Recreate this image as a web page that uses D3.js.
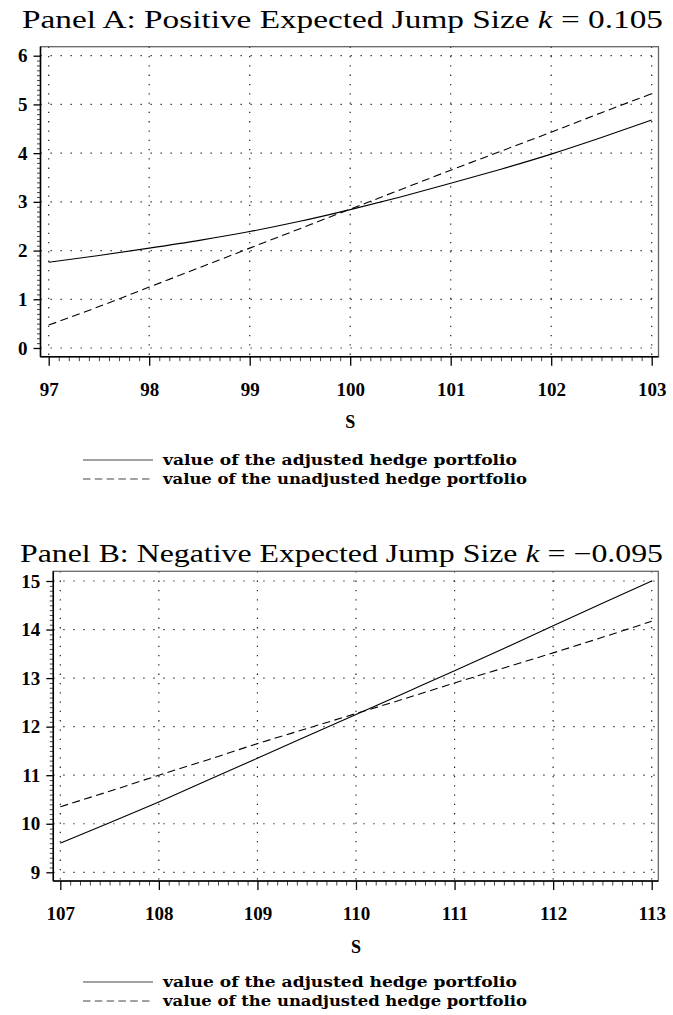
<!DOCTYPE html>
<html>
<head>
<meta charset="utf-8">
<script src="https://cdn.jsdelivr.net/npm/d3@7"></script>
<style>
  body { margin: 0; background: #fff; }
  text { fill: #000; }
</style>
</head>
<body>
<svg width="673" height="1015"></svg>
<script>
// Panel A: k = 0.105
var sA = [97, 97.5, 98, 98.5, 99, 99.5, 100, 100.5, 101, 101.5, 102, 102.5, 103];
var adjustedA = [1.76, 1.90, 2.05, 2.21, 2.39, 2.60, 2.84, 3.10, 3.38, 3.67, 3.98, 4.32, 4.68];
var unadjustedA = [0.47, 0.85, 1.25, 1.65, 2.05, 2.45, 2.85, 3.25, 3.65, 4.04, 4.43, 4.83, 5.22];
var xTicksA = [97, 98, 99, 100, 101, 102, 103];
var yTicksA = [0, 1, 2, 3, 4, 5, 6];

// Panel B: k = -0.095
var sB = [107, 107.5, 108, 108.5, 109, 109.5, 110, 110.5, 111, 111.5, 112, 112.5, 113];
var adjustedB = [9.60, 10.02, 10.45, 10.90, 11.35, 11.80, 12.25, 12.70, 13.15, 13.61, 14.08, 14.54, 15.00];
var unadjustedB = [10.35, 10.67, 11.00, 11.32, 11.65, 11.96, 12.27, 12.58, 12.90, 13.21, 13.52, 13.84, 14.17];
var xTicksB = [107, 108, 109, 110, 111, 112, 113];
var yTicksB = [9, 10, 11, 12, 13, 14, 15];

var legendLabels = ["value of the adjusted hedge portfolio",
    "value of the unadjusted hedge portfolio"];
var xLabel = "S";

var svg = d3.select("svg");
var tickFont = "'Liberation Serif', serif";
var legendFont = "'DejaVu Serif', serif";
var fmt = d3.format("d");

function drawPanel(p) {
    var g = svg.append("g");
    var x = d3.scaleLinear().domain(d3.extent(p.xTicks)).range(p.xRange);
    var y = d3.scaleLinear().domain(d3.extent(p.yTicks)).range(p.yRange);
    var f = p.frame;

    // title
    var title = g.append("text")
        .attr("x", p.titleX).attr("y", p.titleY)
        .attr("text-anchor", "middle")
        .attr("font-family", tickFont)
        .attr("font-size", 25)
        .attr("textLength", p.titleWidth)
        .attr("lengthAdjust", "spacingAndGlyphs");
    title.append("tspan").text(p.title + " ");
    title.append("tspan").attr("font-style", "italic").text("k");
    title.append("tspan").text(" = " + p.kText);

    // dotted grid
    g.append("g").selectAll("line").data(p.xTicks).enter().append("line")
        .attr("x1", d => x(d)).attr("x2", d => x(d))
        .attr("y1", f.t).attr("y2", f.b)
        .attr("stroke", "#222").attr("stroke-width", 1.2)
        .attr("stroke-dasharray", "1.3 8");
    g.append("g").selectAll("line").data(p.yTicks).enter().append("line")
        .attr("x1", f.l).attr("x2", f.r)
        .attr("y1", d => y(d)).attr("y2", d => y(d))
        .attr("stroke", "#222").attr("stroke-width", 1.2)
        .attr("stroke-dasharray", "1.3 8.7");

    // frame
    g.append("rect")
        .attr("x", f.l).attr("y", f.t)
        .attr("width", f.r - f.l).attr("height", f.b - f.t)
        .attr("fill", "none").attr("stroke", "#666").attr("stroke-width", 1.3);

    // y axis
    var yMinor = y.ticks(60).filter(d => p.yTicks.indexOf(d) < 0);
    g.append("g").attr("transform", "translate(" + f.l + ",0)")
        .call(d3.axisLeft(y).tickValues(yMinor).tickSize(3.5).tickFormat(""))
        .call(a => a.select(".domain").remove())
        .selectAll("line").attr("stroke", "#444");
    var yAx = g.append("g").attr("transform", "translate(" + f.l + ",0)")
        .call(d3.axisLeft(y).tickValues(p.yTicks).tickFormat(fmt).tickSize(7).tickPadding(6));
    yAx.select(".domain").remove();
    yAx.selectAll("text").attr("font-family", tickFont).attr("font-weight", "bold")
        .attr("font-size", 19).attr("fill", "#000");
    yAx.selectAll("line").attr("stroke", "#000").attr("stroke-width", 1.3);

    // x axis
    var xMinor = x.ticks(60).filter(d => p.xTicks.indexOf(d) < 0);
    g.append("g").attr("transform", "translate(0," + f.b + ")")
        .call(d3.axisBottom(x).tickValues(xMinor).tickSize(4.5).tickFormat(""))
        .call(a => a.select(".domain").remove())
        .selectAll("line").attr("stroke", "#444");
    var xAx = g.append("g").attr("transform", "translate(0," + f.b + ")")
        .call(d3.axisBottom(x).tickValues(p.xTicks).tickFormat(fmt).tickSize(9).tickPadding(17));
    xAx.select(".domain").remove();
    xAx.selectAll("text").attr("font-family", tickFont).attr("font-weight", "bold")
        .attr("font-size", 19).attr("fill", "#000");
    xAx.selectAll("line").attr("stroke", "#000").attr("stroke-width", 1.3);

    // axis lines
    g.append("line").attr("x1", f.l).attr("x2", f.r).attr("y1", f.b).attr("y2", f.b)
        .attr("stroke", "#000").attr("stroke-width", 1.5);
    g.append("line").attr("x1", f.l).attr("x2", f.l).attr("y1", f.t).attr("y2", f.b)
        .attr("stroke", "#000").attr("stroke-width", 1.5);

    g.append("text")
        .attr("x", x((x.domain()[0] + x.domain()[1]) / 2)).attr("y", p.xLabelY)
        .attr("text-anchor", "middle").attr("dy", "0.35em")
        .attr("font-family", tickFont).attr("font-weight", "bold").attr("font-size", 18)
        .text(xLabel);

    // series
    var line = d3.line().curve(d3.curveMonotoneX);
    var series = [
        { v: p.adjusted, dash: null },
        { v: p.unadjusted, dash: "8 4.5" }
    ];
    series.forEach(function (s) {
        g.append("path")
            .attr("d", line(p.s.map((d, i) => [x(d), y(s.v[i])])))
            .attr("fill", "none").attr("stroke", "#000").attr("stroke-width", 1.1)
            .attr("stroke-dasharray", s.dash);
    });

    // legend
    var leg = g.selectAll(".legend").data(legendLabels).enter().append("g")
        .attr("class", "legend")
        .attr("transform", (d, i) => "translate(0," + (p.legendY + i * 19) + ")");
    leg.append("line")
        .attr("x1", 83).attr("x2", 153).attr("y1", 0).attr("y2", 0)
        .attr("stroke", "#444").attr("stroke-width", 1.1)
        .attr("stroke-dasharray", (d, i) => i ? "7.5 4.3" : null);
    leg.append("text")
        .attr("x", 163).attr("y", 0).attr("dy", "0.3em")
        .attr("font-family", legendFont).attr("font-weight", "bold").attr("font-size", 15)
        .attr("textLength", (d, i) => i ? 364 : 354)
        .attr("lengthAdjust", "spacingAndGlyphs")
        .text(d => d);
}

drawPanel({
    s: sA, adjusted: adjustedA, unadjusted: unadjustedA,
    xTicks: xTicksA, yTicks: yTicksA,
    xRange: [48.7, 651.7], yRange: [348, 55.7],
    frame: { l: 40.5, t: 46.7, r: 658.5, b: 356.7 },
    title: "Panel A: Positive Expected Jump Size", kText: "0.105",
    titleX: 342.5, titleY: 28, titleWidth: 641,
    xLabelY: 422, legendY: 460
});

drawPanel({
    s: sB, adjusted: adjustedB, unadjusted: unadjustedB,
    xTicks: xTicksB, yTicks: yTicksB,
    xRange: [60.3, 651.7], yRange: [872.3, 581],
    frame: { l: 53.3, t: 571.3, r: 658.3, b: 881 },
    title: "Panel B: Negative Expected Jump Size", kText: "\u22120.095",
    titleX: 341.5, titleY: 562, titleWidth: 643,
    xLabelY: 947, legendY: 982
});
</script>
</body>
</html>
